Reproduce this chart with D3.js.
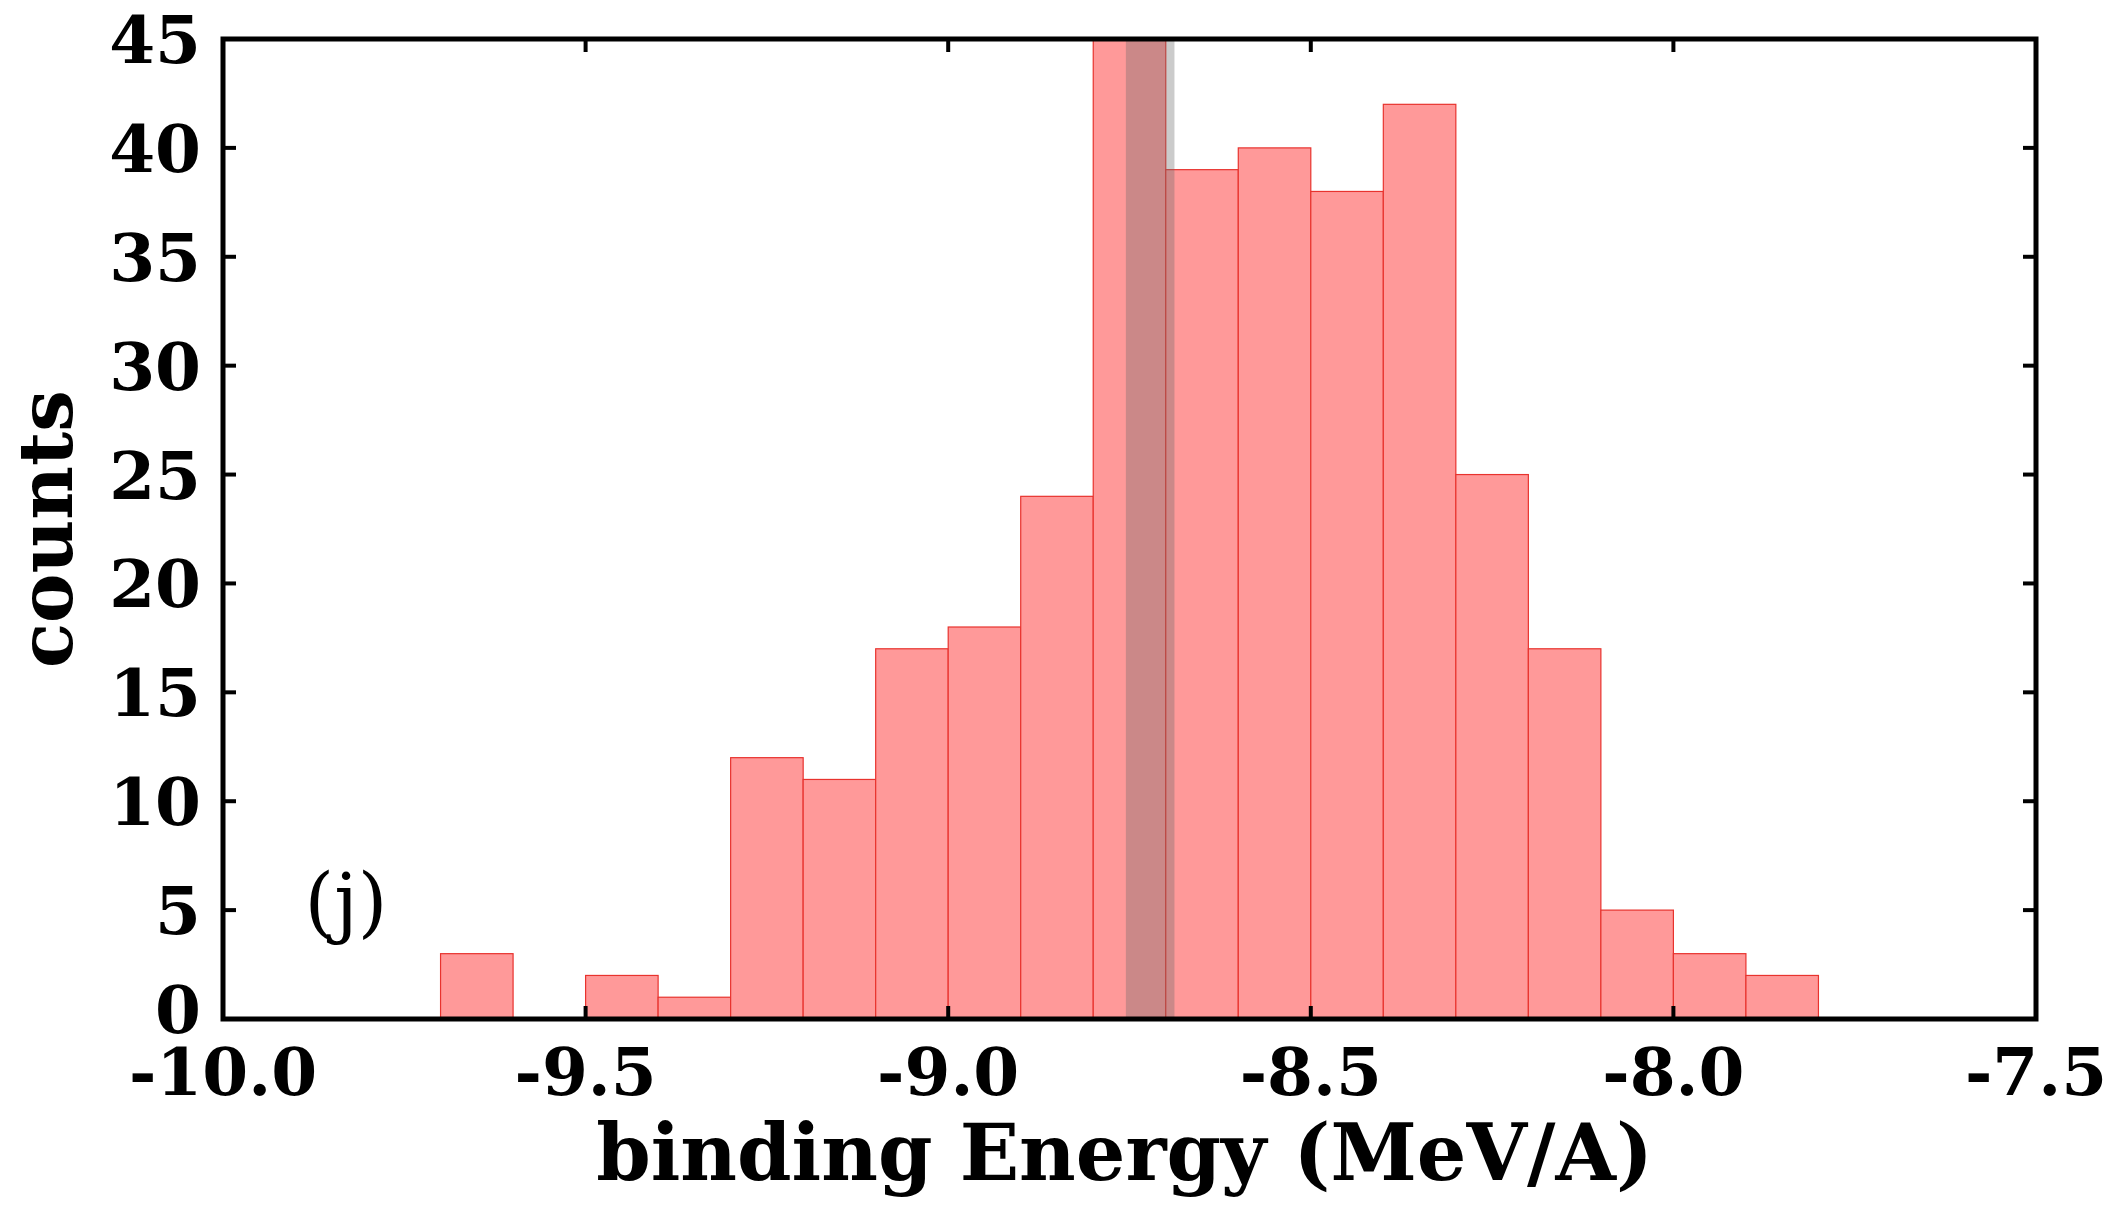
<!DOCTYPE html>
<html><head><meta charset="utf-8">
<script src="https://cdn.jsdelivr.net/npm/d3@7"></script>
<style>body{margin:0;background:#fff}</style>
</head><body>
<svg id="c" width="2107" height="1209"></svg>
<script>
// histogram bins (left edge, width 0.1)
var binStarts = [-9.7,-9.6,-9.5,-9.4,-9.3,-9.2,-9.1,-9.0,-8.9,-8.8,-8.7,-8.6,-8.5,-8.4,-8.3,-8.2,-8.1,-8.0,-7.9]
var counts    = [3,0,2,1,12,11,17,18,24,45,39,40,38,42,25,17,5,3,2]
var xTicks = [-10.0,-9.5,-9.0,-8.5,-8.0,-7.5]
var yTicks = [0,5,10,15,20,25,30,35,40,45]
var band = [-8.755,-8.688]

var svg = d3.select("#c")
var m = {l:223, r:2036, t:39, b:1019}
var x = d3.scaleLinear().domain([-10,-7.5]).range([m.l,m.r])
var y = d3.scaleLinear().domain([0,45]).range([m.b,m.t])
var font = "'DejaVu Serif', serif"

var bins = binStarts.map(function (d,i) { return {x0:d, n:counts[i]} }).filter(function (d) { return d.n > 0 })
svg.selectAll("rect.bar").data(bins).enter().append("rect")
  .attr("class","bar")
  .attr("x", function (d) { return x(d.x0) })
  .attr("width", function (d) { return x(d.x0+0.1)-x(d.x0) })
  .attr("y", function (d) { return y(Math.min(45, d.n)) })
  .attr("height", function (d) { return m.b - y(Math.min(45, d.n)) })
  .style("fill","#ff9999").style("stroke","#e8332e").style("stroke-width",1.2)

svg.append("rect")
  .attr("x", x(band[0])).attr("width", x(band[1])-x(band[0]))
  .attr("y", m.t).attr("height", m.b-m.t)
  .style("fill","#6a6a6a").style("opacity",0.35)

// frame
svg.append("rect").attr("x",m.l).attr("y",m.t).attr("width",m.r-m.l).attr("height",m.b-m.t)
  .style("fill","none").style("stroke","#000").style("stroke-width",5)

var tk = 13
xTicks.forEach(function (t) {
  svg.append("line").attr("x1",x(t)).attr("x2",x(t)).attr("y1",m.b).attr("y2",m.b-tk).style("stroke","#000").style("stroke-width",4)
  svg.append("line").attr("x1",x(t)).attr("x2",x(t)).attr("y1",m.t).attr("y2",m.t+tk).style("stroke","#000").style("stroke-width",4)
  svg.append("text").attr("x",x(t)).attr("y",m.b+76).attr("text-anchor","middle")
    .style("font-family",font).style("font-weight","bold").style("font-size","66px").text(t.toFixed(1))
})
yTicks.forEach(function (t) {
  svg.append("line").attr("x1",m.l).attr("x2",m.l+tk).attr("y1",y(t)).attr("y2",y(t)).style("stroke","#000").style("stroke-width",4)
  svg.append("line").attr("x1",m.r).attr("x2",m.r-tk).attr("y1",y(t)).attr("y2",y(t)).style("stroke","#000").style("stroke-width",4)
  svg.append("text").attr("x",m.l-22).attr("y",y(t)+(t === 0 ? 14 : 24)).attr("text-anchor","end")
    .style("font-family",font).style("font-weight","bold").style("font-size","66px").text(t)
})

svg.append("text").attr("x",(m.l+m.r)/2 - 5).attr("y",1180).attr("text-anchor","middle")
  .style("font-family",font).style("font-weight","bold").style("font-size","78px").text("binding Energy (MeV/A)")
svg.append("text").attr("transform","translate(72,"+((m.t+m.b)/2)+") rotate(-90)").attr("text-anchor","middle")
  .style("font-family",font).style("font-weight","bold").style("font-size","74px").text("counts")
svg.append("text").attr("x",346).attr("y",928).attr("text-anchor","middle")
  .style("font-family",font).style("font-size","76px").text("(j)")
</script>
</body></html>
